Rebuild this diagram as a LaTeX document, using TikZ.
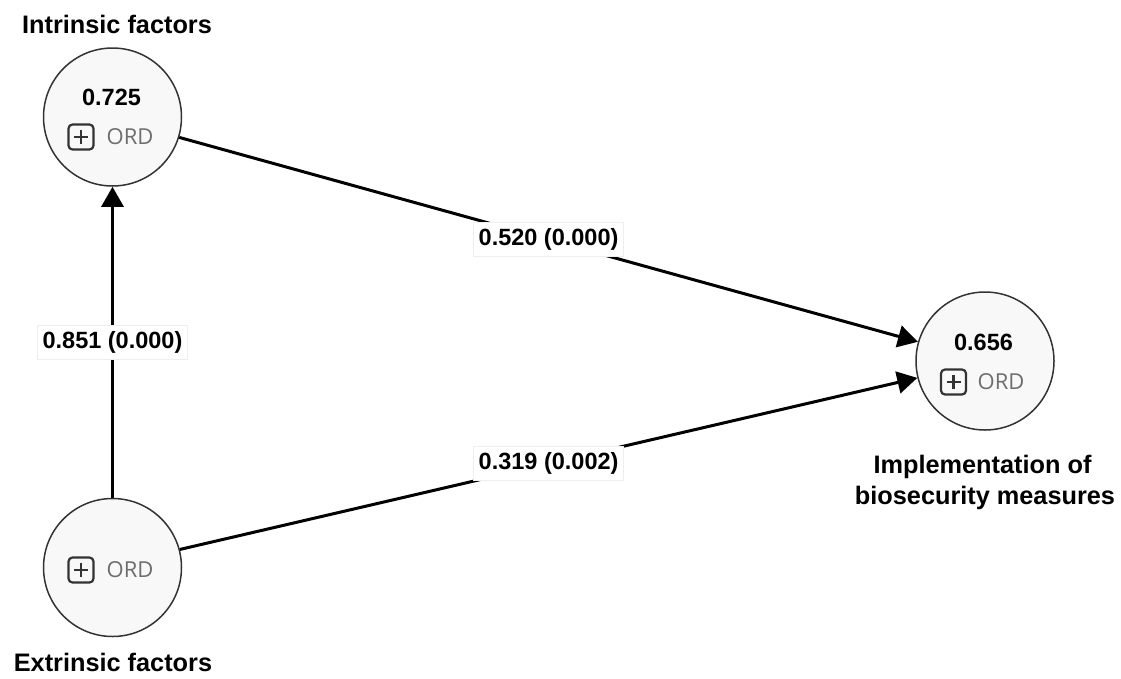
\documentclass[tikz,border=0pt]{standalone}
\usepackage{fontspec}
\setmainfont{Liberation Sans}
\newfontfamily\ordfont{Open Sans}
\usetikzlibrary{arrows.meta}
\definecolor{ringc}{HTML}{333333}
\definecolor{fillc}{HTML}{F8F8F8}
\definecolor{ordc}{HTML}{6E6E6E}
\definecolor{iconc}{HTML}{333333}
\definecolor{boxc}{HTML}{EEEEEE}
\tikzset{
  latent/.style={circle, draw=ringc, line width=1.5pt, fill=fillc, minimum size=138pt, inner sep=0pt},
  val/.style={font=\fontsize{23.5}{27}\selectfont\bfseries, inner sep=0pt},
  ordtxt/.style={font=\ordfont\fontsize{22}{26}\selectfont, text=ordc, inner sep=0pt, anchor=west},
  plusbox/.style={draw=iconc, line width=2.2pt, rounded corners=4pt, minimum size=25pt, inner sep=0pt,
    path picture={
      \draw[iconc, line width=2.2pt]
        ([yshift=-5.5pt]path picture bounding box.north) -- ([yshift=5.5pt]path picture bounding box.south)
        ([xshift=5.5pt]path picture bounding box.west) -- ([xshift=-5.5pt]path picture bounding box.east);
    }},
  title/.style={font=\fontsize{25.3}{30}\selectfont\bfseries, inner sep=0pt},
  path/.style={line width=3pt, -{Triangle[length=20pt,width=22pt]}},
  coef/.style={fill=white, draw=boxc, line width=0.8pt, inner xsep=5pt, inner ysep=6pt,
    font=\fontsize{23.5}{27}\selectfont\bfseries}
}
\begin{document}
\begin{tikzpicture}[x=1pt, y=-1pt]
\useasboundingbox (0,0) rectangle (1121,678);

% constructs
\node[latent] (intr) at (112.5,117) {};
\node[latent] (extr) at (112.5,567.5) {};
\node[latent] (impl) at (985,361) {};

% Intrinsic factors
\node[val] (intrR) at (111.5,97) {0.725};
\node[plusbox] (intrI) at (81,137) {};
\node[ordtxt] (intrO) at (106.5,137) {ORD};
\node[title] (intrT) at (117,24) {Intrinsic factors};

% Extrinsic factors
\node[plusbox] (extrI) at (81,570) {};
\node[ordtxt] (extrO) at (106.5,570) {ORD};
\node[title] (extrT) at (113,662) {Extrinsic factors};

% Implementation of biosecurity measures
\node[val] (implR) at (983.5,342) {0.656};
\node[plusbox] (implI) at (953.5,382) {};
\node[ordtxt] (implO) at (977.5,382) {ORD};
\node[title, anchor=base] (implT1) at (982.5,473) {Implementation of};
\node[title, anchor=base] (implT2) at (985,504) {biosecurity measures};

% structural paths
\draw[path] (extr.north) -- node[coef] (c1) {0.851 (0.000)} (intr.south);
\draw[path] (intr.-17) -- node[coef] (c2) {0.520 (0.000)} (impl.164);
\draw[path] (extr.15.5) -- node[coef] (c3) {0.319 (0.002)} (impl.194);
\end{tikzpicture}
\end{document}
